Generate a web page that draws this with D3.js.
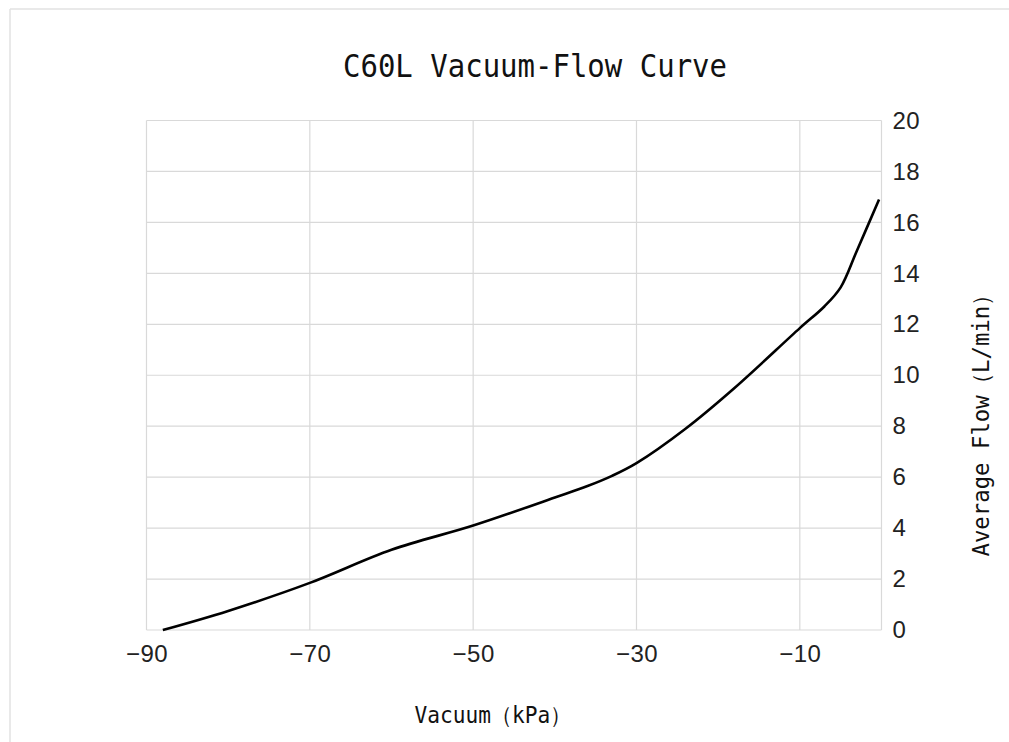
<!DOCTYPE html>
<html>
  <head>
    <meta charset="utf-8">
    <title>C60L Vacuum-Flow Curve</title>
    <script src="https://d3js.org/d3.v7.min.js"></script>
    <style>
      body { margin: 0; background: #fff; }
      .mono { font-family: 'DejaVu Sans Mono', 'Liberation Mono', monospace; }
    </style>
  </head>
  <body>
    <svg></svg>
    <script>
    //begin: data
    var vacuum = [-88, -80, -70, -60, -50, -40, -36, -33, -30, -24, -18, -10, -7, -5, -3, -0.3];
    var flow   = [0, 0.75, 1.85, 3.15, 4.1, 5.2, 5.65, 6.05, 6.55, 7.9, 9.5, 11.85, 12.7, 13.45, 14.9, 16.9];
    var xTicks = [-90, -70, -50, -30, -10];
    var yTicks = [0, 2, 4, 6, 8, 10, 12, 14, 16, 18, 20];
    var xGrid = [-90, -70, -50, -30, -10, 0];
    //end: data

    //begin: layout conf.
    var svgWidth = 1009,
        svgHeight = 742,
        plot = {left: 146.5, right: 881.5, top: 120.5, bottom: 630};
    //end: layout conf.

    var svg = d3.select("svg")
      .attr("width", svgWidth)
      .attr("height", svgHeight);

    // faint sheet border
    svg.append("line").attr("x1", 10).attr("x2", 10).attr("y1", 9).attr("y2", svgHeight)
      .style("stroke", "#e2e2e2").style("stroke-width", 1.5);
    svg.append("line").attr("x1", 10).attr("x2", svgWidth).attr("y1", 9).attr("y2", 9)
      .style("stroke", "#e2e2e2").style("stroke-width", 1.5);

    var x = d3.scaleLinear().domain([-90, 0]).range([plot.left, plot.right]);
    var y = d3.scaleLinear().domain([0, 20]).range([plot.bottom, plot.top]);

    // grid
    var grid = svg.append("g").classed("grid", true);
    grid.selectAll(".hgrid")
      .data(yTicks)
      .enter().append("line")
        .attr("x1", plot.left).attr("x2", plot.right)
        .attr("y1", function(d){ return y(d); })
        .attr("y2", function(d){ return y(d); })
        .style("stroke", "#d9d9d9").style("stroke-width", 1.2);
    grid.selectAll(".vgrid")
      .data(xGrid)
      .enter().append("line")
        .attr("y1", plot.top).attr("y2", plot.bottom)
        .attr("x1", function(d){ return x(d); })
        .attr("x2", function(d){ return x(d); })
        .style("stroke", "#d9d9d9").style("stroke-width", 1.2);

    // axes (labels only)
    var xAxis = svg.append("g")
      .attr("transform", "translate(0," + (plot.bottom + 12) + ")")
      .call(d3.axisBottom(x).tickValues(xTicks).tickSize(0)
        .tickFormat(function(d){ return d < 0 ? "\u2212" + Math.abs(d) : d; }));
    xAxis.select(".domain").remove();

    var yAxis = svg.append("g")
      .attr("transform", "translate(" + (plot.right + 11) + ",0)")
      .call(d3.axisRight(y).tickValues(yTicks).tickSize(0).tickPadding(0));
    yAxis.select(".domain").remove();
    yAxis.selectAll("text").attr("text-anchor", "start");

    svg.selectAll(".tick text")
      .style("font-family", "'Liberation Sans', Arial, sans-serif")
      .style("font-size", "24px")
      .style("letter-spacing", "0.5px")
      .style("fill", "#222");

    // curve
    var data = vacuum.map(function(v, i){ return [v, flow[i]]; });
    var line = d3.line()
      .x(function(d){ return x(d[0]); })
      .y(function(d){ return y(d[1]); })
      .curve(d3.curveCatmullRom.alpha(0.5));

    svg.append("path")
      .datum(data)
      .attr("d", line)
      .style("fill", "none")
      .style("stroke", "#000")
      .style("stroke-width", 2.6)
      .style("stroke-linejoin", "round");

    // titles
    svg.append("text")
      .classed("mono", true)
      .attr("x", 535).attr("y", 77)
      .attr("text-anchor", "middle")
      .attr("textLength", 384).attr("lengthAdjust", "spacingAndGlyphs")
      .style("font-size", "32px").style("fill", "#111")
      .text("C60L Vacuum-Flow Curve");

    svg.append("text")
      .classed("mono", true)
      .attr("x", 493).attr("y", 723)
      .attr("text-anchor", "middle")
      .attr("textLength", 157).attr("lengthAdjust", "spacingAndGlyphs")
      .style("font-size", "23px").style("fill", "#111")
      .text("Vacuum\uFF08kPa\uFF09");

    svg.append("text")
      .classed("mono", true)
      .attr("transform", "translate(989,420) rotate(-90)")
      .attr("text-anchor", "middle")
      .attr("textLength", 273).attr("lengthAdjust", "spacingAndGlyphs")
      .style("font-size", "23px").style("fill", "#111")
      .text("Average Flow\uFF08L/min\uFF09");
    </script>
  </body>
</html>
